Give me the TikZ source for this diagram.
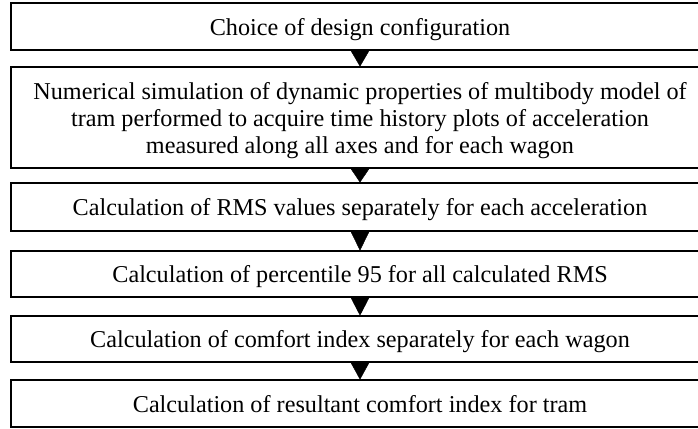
\documentclass[tikz,border=0pt]{standalone}
\usepackage{fontspec}
\setmainfont{Liberation Serif}
\tikzset{stepbox/.style={draw=black, line width=1.6pt, minimum width=698pt, align=center,
    inner sep=0pt, text depth=0pt, font=\fontsize{24.2}{27}\selectfont},
  tri/.style={fill=black, draw=black, line width=0.4pt, line join=miter}}

\begin{document}
\begin{tikzpicture}[x=1pt, y=-1pt]
\useasboundingbox (0,0) rectangle (698,428);
\clip (0,0) rectangle (698,428);

    \node[stepbox, minimum height=47pt] (choice) at (360,26.5) {Choice of design configuration};
    \node[stepbox, minimum height=101pt] (sim) at (360,117.5) {Numerical simulation of dynamic properties of multibody model of\\
        tram performed to acquire time history plots of acceleration\\
        measured along all axes and for each wagon};
    \node[stepbox, minimum height=48pt] (rms) at (360,207) {Calculation of RMS values separately for each acceleration};
    \node[stepbox, minimum height=46pt] (perc) at (360,274) {Calculation of percentile 95 for all calculated RMS};
    \node[stepbox, minimum height=46pt] (comf) at (360,339) {Calculation of comfort index separately for each wagon};
    \node[stepbox, minimum height=47pt] (result) at (360,403.5) {Calculation of resultant comfort index for tram};

    % triangles between the steps
    \draw[tri] (choice.south) ++(-9,0) -- ++(18,0) -- (sim.north) -- cycle;
    \draw[tri] (sim.south) ++(-9,0) -- ++(18,0) -- (rms.north) -- cycle;
    \draw[tri] (rms.south) ++(-9,0) -- ++(18,0) -- (perc.north) -- cycle;
    \draw[tri] (perc.south) ++(-9,0) -- ++(18,0) -- (comf.north) -- cycle;
    \draw[tri] (comf.south) ++(-9,0) -- ++(18,0) -- (result.north) -- cycle;

\end{tikzpicture}
\end{document}
